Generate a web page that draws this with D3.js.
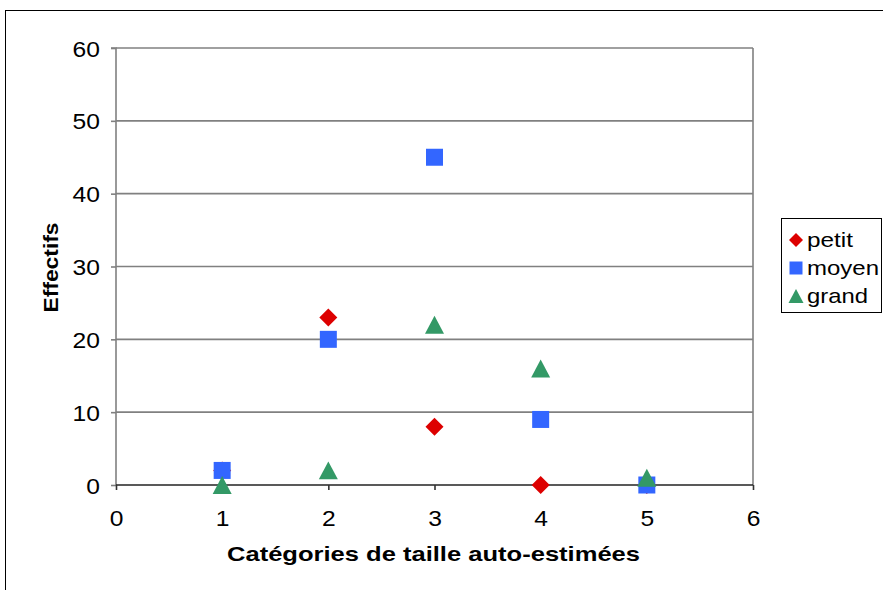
<!DOCTYPE html>
<html><head><meta charset="utf-8">
<script src="https://cdn.jsdelivr.net/npm/d3@7"></script>
<style>body{margin:0;background:#fff;} svg{display:block;font-family:"Liberation Sans",Arial,sans-serif;}</style>
</head><body>
<svg id="c" width="883" height="590"></svg>
<script>
const categories = [1, 2, 3, 4, 5];
const petit = [2, 23, 8, 0, 0];
const moyen = [2, 20, 45, 9, 0];
const grand = [0, 2, 22, 16, 1];
const seriesNames = ["petit", "moyen", "grand"];
const seriesColors = ["#dd0000", "#3366ff", "#339966"];
const xTicks = [0, 1, 2, 3, 4, 5, 6];
const yTicks = [0, 10, 20, 30, 40, 50, 60];

const svg = d3.select("#c");
const L = 116, R = 753, T = 48, B = 485;
const x = d3.scaleLinear().domain([0, 6]).range([L, R]);
const y = d3.scaleLinear().domain([0, 60]).range([B, T]);
const FONT = "Liberation Sans, Arial, sans-serif";

// custom symbol types (size = full width in px)
const diamondT = {draw(c, s){ const h = s/2; c.moveTo(0,-h); c.lineTo(h,0); c.lineTo(0,h); c.lineTo(-h,0); c.closePath(); }};
const squareT = {draw(c, s){ const h = s/2; c.rect(-h,-h,s,s); }};
const triT = {draw(c, s){ const h = s/2, hh = s*0.47; c.moveTo(0,-hh); c.lineTo(h,hh); c.lineTo(-h,hh); c.closePath(); }};
const shapes = [diamondT, squareT, triT];

// outer chart border
svg.append("rect").attr("x", 5.5).attr("y", 10.5).attr("width", 900).attr("height", 600)
  .attr("fill", "none").attr("stroke", "#000").attr("stroke-width", 1);

// gridlines
svg.append("g").selectAll("line").data(yTicks.filter(d => d > 0)).join("line")
  .attr("x1", L).attr("x2", R).attr("y1", d => y(d)).attr("y2", d => y(d))
  .attr("stroke", "#808080").attr("stroke-width", 1.6);
svg.append("line").attr("x1", R).attr("x2", R).attr("y1", T).attr("y2", B)
  .attr("stroke", "#808080").attr("stroke-width", 1.6);

// y axis
const yAxis = d3.axisLeft(y).tickValues(yTicks).tickSize(5).tickPadding(0).tickFormat(d3.format("d"));
const gy = svg.append("g").attr("transform", `translate(${L},0)`).call(yAxis);
gy.select(".domain").attr("stroke", "#808080").attr("stroke-width", 1.6).attr("d", `M-5,${T}H0V${B}`);
gy.selectAll(".tick line").attr("stroke", "#808080").attr("stroke-width", 1.6);
gy.selectAll("text").attr("x", null).attr("dy", null).attr("font-size", 22).attr("fill", "#000")
  .attr("font-family", FONT).attr("text-anchor", "end")
  .attr("transform", "translate(-16,8) scale(1.12,1)");

// x axis
const xAxis = d3.axisBottom(x).tickValues(xTicks).tickSize(5).tickPadding(0).tickFormat(d3.format("d"));
const gx = svg.append("g").attr("transform", `translate(0,${B})`).call(xAxis);
gx.select(".domain").attr("stroke", "#222").attr("stroke-width", 1.6).attr("d", `M${L},0H${R}`);
gx.selectAll(".tick line").attr("stroke", "#333").attr("stroke-width", 1.6);
gx.selectAll("text").attr("y", null).attr("dy", null).attr("font-size", 22).attr("fill", "#000")
  .attr("font-family", FONT).attr("text-anchor", "middle")
  .attr("transform", "translate(0,41) scale(1.12,1)");

// axis titles
svg.append("text").attr("x", (L + R) / 2 - 1).attr("y", 561).attr("text-anchor", "middle")
  .attr("font-size", 21).attr("font-weight", "bold")
  .attr("textLength", 413).attr("lengthAdjust", "spacingAndGlyphs")
  .text("Catégories de taille auto-estimées");
svg.append("text").attr("transform", `translate(58,${(T + B) / 2 + 1}) rotate(-90)`).attr("text-anchor", "middle")
  .attr("font-size", 21).attr("font-weight", "bold")
  .attr("textLength", 90).attr("lengthAdjust", "spacingAndGlyphs")
  .text("Effectifs");

// markers
const sizes = [18, 17, 19];
const data = [petit, moyen, grand];
data.forEach((vals, si) => {
  const sym = d3.symbol().type(shapes[si]).size(sizes[si]);
  svg.append("g").selectAll("path").data(categories.map((c, i) => ({c, v: vals[i]}))).join("path")
    .attr("d", sym)
    .attr("transform", d => `translate(${x(d.c)},${y(d.v)})`)
    .attr("fill", seriesColors[si]);
});

// legend
const lg = svg.append("g");
lg.append("rect").attr("x", 781.5).attr("y", 218.5).attr("width", 100).attr("height", 94)
  .attr("fill", "#fff").attr("stroke", "#000").attr("stroke-width", 1);
const legW = [46, 72, 61];
seriesNames.forEach((n, i) => {
  const yy = 239 + i * 28;
  lg.append("path").attr("d", d3.symbol().type(shapes[i]).size([14, 13, 15][i]))
    .attr("transform", `translate(796,${yy + 1})`).attr("fill", seriesColors[i]);
  lg.append("text").attr("x", 807).attr("y", yy + 8).attr("font-size", 21)
    .attr("textLength", legW[i]).attr("lengthAdjust", "spacingAndGlyphs").text(n);
});
</script>
</body></html>
